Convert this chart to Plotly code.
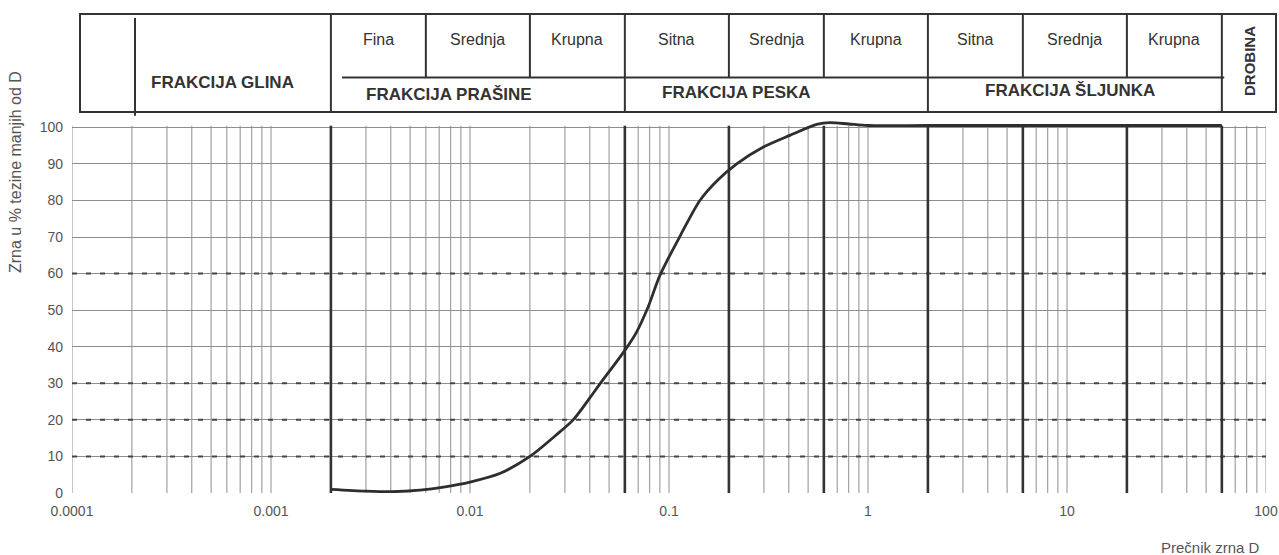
import math
import plotly.graph_objects as go

# Granulometric curve: grain diameter D (mm) vs. percent finer by weight
diameter_mm = [0.002, 0.003, 0.004, 0.0056, 0.0075, 0.01, 0.0142, 0.02, 0.027,
               0.033, 0.04, 0.0445, 0.06, 0.0687, 0.0787, 0.09, 0.1135, 0.143,
               0.176, 0.219, 0.298, 0.405, 0.552, 0.644, 0.8, 1.0, 2.0, 6.0, 20.0, 60.0]
passing_pct = [1.0, 0.5, 0.35, 0.8, 1.7, 3.0, 5.4, 10.0, 15.8,
               20.0, 26.0, 29.5, 39.0, 44.0, 51.0, 59.5, 70.2, 80.0,
               85.6, 90.0, 94.6, 97.8, 100.8, 101.3, 100.9, 100.5, 100.5, 100.5, 100.5, 100.5]

# Fraction boundaries (mm)
major_bounds = [0.002, 0.06, 2.0, 60.0]
minor_bounds = [0.006, 0.02, 0.2, 0.6, 6.0, 20.0]
plot_bold_bounds = [0.002, 0.06, 0.2, 0.6, 2.0, 6.0, 20.0, 60.0]
dashed_levels = [10, 20, 30, 60]

x_tick_vals = [0.0001, 0.001, 0.01, 0.1, 1, 10, 100]
x_tick_text = ["0.0001", "0.001", "0.01", "0.1", "1", "10", "100"]
y_tick_vals = [0, 10, 20, 30, 40, 50, 60, 70, 80, 90, 100]

sub_labels = ["Fina", "Srednja", "Krupna", "Sitna", "Srednja", "Krupna",
              "Sitna", "Srednja", "Krupna"]
sub_cells = [(0.002, 0.006), (0.006, 0.02), (0.02, 0.06), (0.06, 0.2), (0.2, 0.6),
             (0.6, 2.0), (2.0, 6.0), (6.0, 20.0), (20.0, 60.0)]

# layout geometry
W, H = 1279, 555
ML, MR, MT, MB = 72, 13, 120, 62
PW, PH = W - ML - MR, H - MT - MB
X_LOG0, X_LOG1 = -4, 2
FONT = "Liberation Sans, Arial, sans-serif"


def xp(v):
    """data value -> paper x on the log axis"""
    return (math.log10(v) - X_LOG0) / (X_LOG1 - X_LOG0)


def pxx(px):
    return (px - ML) / PW


def pxy(py):
    return (H - MB - py) / PH


GRID = "#8e8e8e"
INK = "#333333"

fig = go.Figure()

# thin vertical log grid
thin_x, thin_y = [], []
for n in range(X_LOG0, X_LOG1):
    for k in range(1, 10):
        v = k * 10 ** n
        thin_x += [v, v, None]
        thin_y += [0, 100.4, None]
thin_x += [100, 100, None]
thin_y += [0, 100.4, None]
fig.add_trace(go.Scatter(x=thin_x, y=thin_y, mode="lines",
                         line=dict(color=GRID, width=1), hoverinfo="skip",
                         showlegend=False))

# dashed reference levels
for lv in dashed_levels:
    fig.add_trace(go.Scatter(x=[0.0001, 100], y=[lv, lv], mode="lines",
                             line=dict(color="#444444", width=2, dash="5px,9px"),
                             hoverinfo="skip", showlegend=False))

# bold fraction boundaries
bold_x, bold_y = [], []
for v in plot_bold_bounds:
    bold_x += [v, v, None]
    bold_y += [0, 100.4, None]
fig.add_trace(go.Scatter(x=bold_x, y=bold_y, mode="lines",
                         line=dict(color=INK, width=2.6), hoverinfo="skip",
                         showlegend=False))

# grain size curve
fig.add_trace(go.Scatter(x=diameter_mm, y=passing_pct, mode="lines",
                         line=dict(color="#2e2e2e", width=2.8, shape="spline",
                                   smoothing=0.8),
                         showlegend=False))

# header table
shapes = []
TOP, BOT, MID = pxy(14), pxy(112), pxy(77.5)
LEFT, RIGHT = pxx(80), pxx(1276)
line_style = dict(color=INK, width=2)
shapes.append(dict(type="rect", xref="paper", yref="paper", x0=LEFT, x1=RIGHT,
                   y0=BOT, y1=TOP, line=line_style))
shapes.append(dict(type="line", xref="paper", yref="paper", x0=pxx(135), x1=pxx(135),
                   y0=BOT - 0.01, y1=pxy(18), line=line_style))
for v in major_bounds:
    shapes.append(dict(type="line", xref="paper", yref="paper", x0=xp(v), x1=xp(v),
                       y0=BOT, y1=TOP, line=line_style))
for v in minor_bounds:
    shapes.append(dict(type="line", xref="paper", yref="paper", x0=xp(v), x1=xp(v),
                       y0=MID, y1=TOP, line=line_style))
shapes.append(dict(type="line", xref="paper", yref="paper", x0=pxx(342),
                   x1=xp(60.0) + 0.002, y0=MID, y1=MID, line=line_style))


def label(text, cx, cy, font, angle=0):
    return dict(x=cx, y=cy, xref="paper", yref="paper", text=text,
                showarrow=False, xanchor="center", yanchor="middle",
                textangle=angle, font=font)


annotations = []
TXT = dict(family=FONT, size=16, color=INK)
BOLD = dict(family=FONT, size=17, color=INK)
for lab, (a, b) in zip(sub_labels, sub_cells):
    annotations.append(label(lab, xp(math.sqrt(a * b)), pxy(39), TXT))
for lab, cx, cy in [("<b>FRAKCIJA GLINA</b>", 222, 83),
                    ("<b>FRAKCIJA PRAŠINE</b>", 449, 95),
                    ("<b>FRAKCIJA PESKA</b>", 736, 93),
                    ("<b>FRAKCIJA ŠLJUNKA</b>", 1070, 91)]:
    annotations.append(label(lab, pxx(cx), pxy(cy), BOLD))
annotations.append(label("<b>DROBINA</b>", pxx(1250), pxy(61),
                         dict(family=FONT, size=15, color=INK), angle=-90))

# axis titles
annotations.append(label("Zrna u % tezine manjih od D", pxx(15), pxy(172),
                         dict(family=FONT, size=16, color="#555555"), angle=-90))
annotations.append(label("Prečnik zrna D", pxx(1210), pxy(547),
                         dict(family=FONT, size=15, color="#555555")))

fig.update_layout(
    width=W, height=H,
    margin=dict(l=ML, r=MR, t=MT, b=MB),
    paper_bgcolor="white", plot_bgcolor="white",
    shapes=shapes, annotations=annotations,
    xaxis=dict(type="log", range=[X_LOG0, X_LOG1], showgrid=False, zeroline=False,
               showline=False, tickvals=x_tick_vals, ticktext=x_tick_text,
               ticks="", ticklabelstandoff=8, automargin=False,
               tickfont=dict(family=FONT, size=14, color="#555555")),
    yaxis=dict(range=[0, 102], tickvals=y_tick_vals, showgrid=True,
               gridcolor=GRID, gridwidth=1, zeroline=False, showline=False,
               ticks="", ticklabelstandoff=8, automargin=False,
               tickfont=dict(family=FONT, size=14, color="#555555")),
)

fig.write_html("out.html")
